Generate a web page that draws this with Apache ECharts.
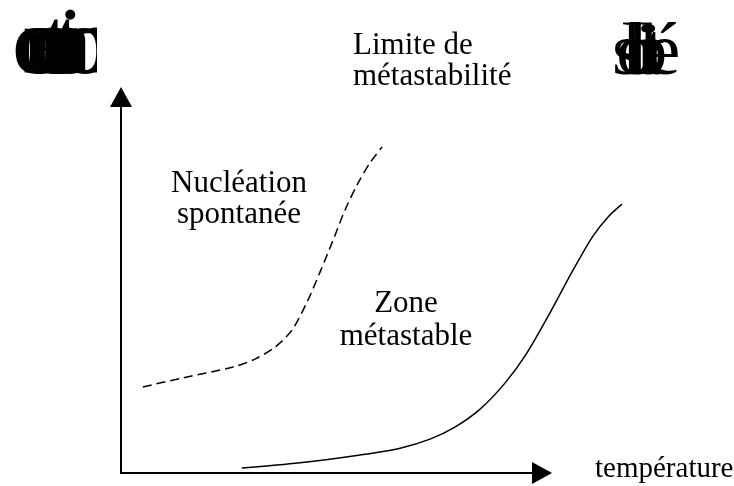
<!DOCTYPE html>
<html>
<head>
<meta charset="utf-8">
<script src="https://cdn.jsdelivr.net/npm/echarts@6/dist/echarts.min.js"></script>
<style>html,body{margin:0;padding:0;background:#fff}#c{width:734px;height:486px}</style>
</head>
<body>
<div id="c"></div>
<script>
// Limite de métastabilité (dashed curve)
const limitX = [5.2, 14.7, 26.6, 31.8, 36.6, 40.6, 44.2, 47.3, 50.4, 53.2, 56.3, 59.1, 62.0];
const limitY = [22.9, 25.3, 28.2, 30.3, 33.5, 38.0, 45.5, 53.5, 62.0, 69.9, 77.1, 82.4, 86.7];
// Courbe de solubilité (solid curve)
const solX = [28.7, 42.5, 56.8, 66.3, 73.4, 79.3, 85.3, 91.2, 96.4, 101.9, 107.4, 112.1, 115.7, 119.0];
const solY = [1.3, 2.7, 4.8, 6.6, 9.0, 12.2, 17.0, 23.9, 31.9, 42.6, 54.0, 63.0, 68.1, 71.5];
// texts
const yAxisName = 'concentration';
const solubilityName = 'solubilité';
const xAxisName = 'température';
const limitLabel = 'Limite de\nmétastabilité';
const nucleationLabel = 'Nucléation\nspontanée';
const zoneLabel = 'Zone\nmétastable';

const SERIF = '"Liberation Serif", "Times New Roman", serif';
const adv = {c:.444,o:.5,n:.5,e:.444,t:.278,r:.333,a:.444,i:.278,s:.389,l:.278,u:.5,b:.5,'é':.444};

function blob(word, x0, yMid, fs, k) {
  const els = [];
  let x = x0;
  for (const ch of word) {
    els.push({
      type: 'text', x: x, y: yMid, silent: true,
      style: { text: ch, font: fs + 'px ' + SERIF, fill: '#000',
               align: 'left', textAlign: 'left', verticalAlign: 'middle', textVerticalAlign: 'middle' }
    });
    x += (adv[ch] || 0.45) * k;
  }
  return els;
}
function label(text, x, y, fs, lh, align) {
  return {
    type: 'text', x: x, y: y, silent: true,
    style: { text: text, font: fs + 'px ' + SERIF, fill: '#000', lineHeight: lh,
             align: align, textAlign: align, verticalAlign: 'top', textVerticalAlign: 'top' }
  };
}

const chart = echarts.init(document.getElementById('c'), null, {renderer: 'canvas'});
const graphics = []
  .concat(blob(yAxisName, 12, 48, 95, 11))
  .concat([{ type: 'rect', shape: {x: 97, y: 0, width: 18, height: 84}, style: {fill: '#fff'}, silent: true, z: 10 }])
  .concat(blob(solubilityName, 612, 54, 75, 10.7))
  .concat([
    label(limitLabel, 353, 30, 31, 31, 'left'),
    label(nucleationLabel, 239, 168, 31, 31, 'center'),
    label(zoneLabel, 406, 287, 31, 33, 'center'),
    label(xAxisName, 595, 455, 29, 29, 'left')
  ]);

const hiddenAxis = { show: false, type: 'value', min: 0 };
const arrowAxis = {
  type: 'value', min: 0, max: 100, gridIndex: 0,
  axisLine: { show: true, onZero: false, symbol: ['none', 'triangle'], symbolSize: [22, 20],
              lineStyle: { color: '#000', width: 2 } },
  axisTick: { show: false }, axisLabel: { show: false }, splitLine: { show: false }
};

chart.setOption({
  animation: false,
  backgroundColor: '#fff',
  grid: [
    { left: 121, right: 192, top: 97, bottom: 13 },
    { left: 121, right: 86.75, top: 97, bottom: 13 }
  ],
  xAxis: [
    arrowAxis,
    Object.assign({}, hiddenAxis, { gridIndex: 1, max: 125 })
  ],
  yAxis: [
    arrowAxis,
    Object.assign({}, hiddenAxis, { gridIndex: 1, max: 100 })
  ],
  series: [
    {
      name: 'Limite de métastabilité', type: 'line', xAxisIndex: 1, yAxisIndex: 1,
      smooth: 0.3, showSymbol: false,
      data: limitX.map((x, i) => [x, limitY[i]]),
      lineStyle: { color: '#000', width: 1.5, type: [9, 5] }
    },
    {
      name: 'solubilité', type: 'line', xAxisIndex: 1, yAxisIndex: 1,
      smooth: 0.3, showSymbol: false,
      data: solX.map((x, i) => [x, solY[i]]),
      lineStyle: { color: '#000', width: 1.5 }
    }
  ],
  graphic: graphics
});
</script>
</body>
</html>
